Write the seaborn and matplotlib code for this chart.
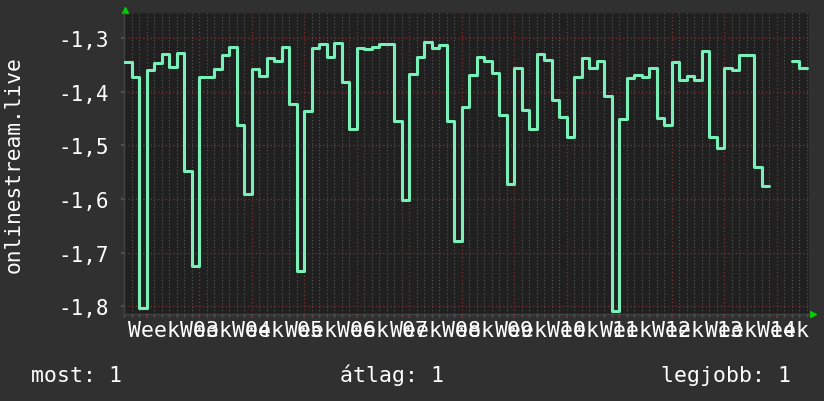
import pandas as pd
import matplotlib.pyplot as plt
import seaborn as sns

# one reading per day, None where nothing was recorded
values = [
    -1.344, -1.372, -1.803, -1.360, -1.347, -1.330, -1.353, -1.327, -1.547, -1.724,
    -1.372, -1.372, -1.358, -1.332, -1.316, -1.462, -1.590, -1.358, -1.370, -1.337,
    -1.342, -1.317, -1.423, -1.734, -1.435, -1.318, -1.310, -1.335, -1.308, -1.381,
    -1.470, -1.318, -1.320, -1.317, -1.310, -1.310, -1.454, -1.601, -1.366, -1.335,
    -1.306, -1.319, -1.312, -1.454, -1.679, -1.428, -1.368, -1.334, -1.342, -1.365,
    -1.444, -1.571, -1.355, -1.433, -1.469, -1.329, -1.340, -1.416, -1.446, -1.484,
    -1.373, -1.336, -1.355, -1.342, -1.407, -1.808, -1.451, -1.375, -1.368, -1.373,
    -1.355, -1.448, -1.461, -1.344, -1.377, -1.370, -1.377, -1.323, -1.485, -1.504,
    -1.355, -1.360, -1.332, -1.332, -1.541, -1.575, None, None, None, -1.342,
    -1.355,
]
week_labels = ['Week 03', 'Week 04', 'Week 05', 'Week 06', 'Week 07', 'Week 08', 'Week 09',
               'Week 10', 'Week 11', 'Week 12', 'Week 13', 'Week 14', 'Week 15']
y_ticks = [-1.3, -1.4, -1.5, -1.6, -1.7, -1.8]
y_tick_labels = ['-1,3', '-1,4', '-1,5', '-1,6', '-1,7', '-1,8']
series_name = 'onlinestream.live'
summary = ['most: 1', 'átlag: 1', 'legjobb: 1']

# split into runs without gaps, each run closed at the end of its last day
rows = []
seg = 0
prev = None
for day, v in enumerate(values):
    if v is None:
        if prev is not None:
            rows.append((day, prev, seg))
            seg += 1
        prev = None
        continue
    rows.append((day, v, seg))
    prev = v
if prev is not None:
    rows.append((len(values), prev, seg))
df = pd.DataFrame(rows, columns=['day', 'value', 'segment'])

sns.set_theme(style='dark')
plt.rcParams['font.family'] = ['DejaVu Sans Mono']
plt.rcParams['axes.unicode_minus'] = False

fig = plt.figure(figsize=(8.24, 4.02), dpi=100, facecolor='#303030')
ax = fig.add_axes([0.1508, 0.2164, 0.8309, 0.75])
ax.set_facecolor('#202020')

sns.lineplot(data=df, x='day', y='value', units='segment', estimator=None,
             drawstyle='steps-post', color='#78f0b8', linewidth=2.2,
             legend=False, ax=ax, zorder=3)

ax.set_xlim(0, 91.3)
ax.set_ylim(-1.8144, -1.2519)

ax.set_xticks([3 + 7 * i for i in range(len(week_labels))])
ax.set_xticklabels([])
ax.set_xticks(range(0, 92), minor=True)
ax.set_yticks(y_ticks)
ax.set_yticklabels(y_tick_labels, fontsize=15, color='white')

ax.grid(False)
ax.grid(which='minor', axis='x', color='#585858', linestyle=(0, (1, 2)), linewidth=0.8)
ax.grid(which='major', axis='x', color='#7a3434', linestyle=(0, (1, 2)), linewidth=0.9)
ax.grid(which='major', axis='y', color='#7a3434', linestyle=(0, (1, 2)), linewidth=0.9)

ax.tick_params(axis='x', which='major', length=3, color='#7a3434', direction='out', bottom=True)
ax.tick_params(axis='x', which='minor', length=2, color='#555555', direction='out', bottom=True)
ax.tick_params(axis='y', length=2, color='#555555', pad=9, left=True)

for side in ['top', 'right']:
    ax.spines[side].set_visible(False)
for side in ['left', 'bottom']:
    ax.spines[side].set_color('#444444')
    ax.spines[side].set_linewidth(1)

ax.set_xlabel('')
ax.set_ylabel('')

# week labels sit in the middle of each week, wide enough to overlap
for i, lab in enumerate(week_labels):
    ax.text(6.5 + 7 * i, -0.073, lab, transform=ax.get_xaxis_transform(),
            ha='center', va='baseline', fontsize=15.5, color='white')

fig.text(13.5 / 824, 1 - 165 / 402, series_name, rotation=90, ha='center', va='center',
         fontsize=15.3, color='white')

fig.text(31 / 824, 0.0505, summary[0], ha='left', va='baseline', fontsize=15.5, color='white')
fig.text(392 / 824, 0.0505, summary[1], ha='center', va='baseline', fontsize=15.5, color='white')
fig.text(791 / 824, 0.0505, summary[2], ha='right', va='baseline', fontsize=15.5, color='white')

# little green arrow heads at the axis ends
ax.plot([124.8 / 824], [1 - 10.5 / 402], marker='^', ms=4.5, color='#00d000',
        transform=fig.transFigure, clip_on=False)
ax.plot([813 / 824], [1 - 315 / 402], marker='>', ms=4.5, color='#00d000',
        transform=fig.transFigure, clip_on=False)

fig.savefig('out.png', dpi=100, facecolor=fig.get_facecolor())
